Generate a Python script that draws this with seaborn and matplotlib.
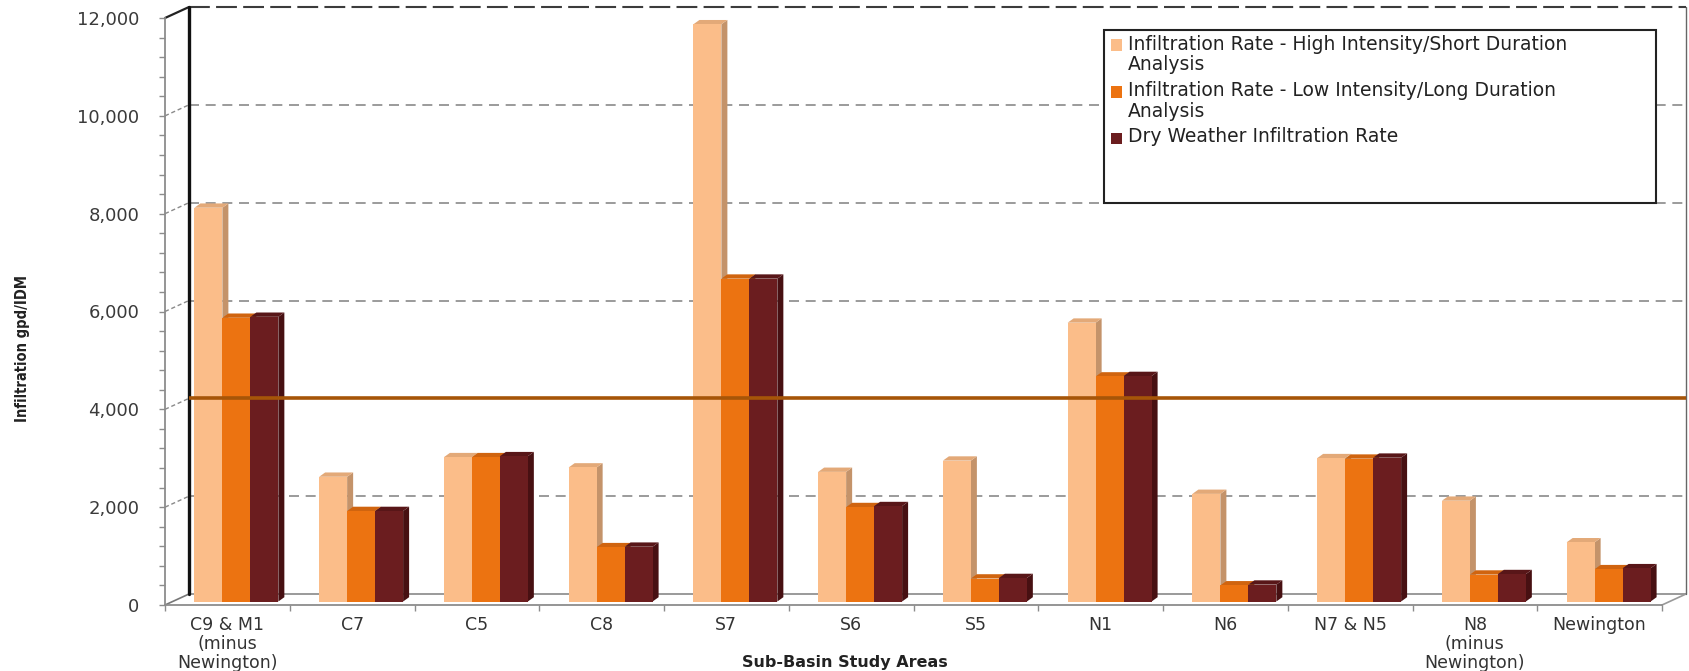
import numpy as np
import pandas as pd
import seaborn as sns
import matplotlib
matplotlib.use("Agg")
import matplotlib.pyplot as plt
from matplotlib.patches import Polygon, Rectangle
from matplotlib.ticker import MultipleLocator, FixedLocator

# ---- data -------------------------------------------------------------
areas = ["C9 & M1\n(minus\nNewington)", "C7", "C5", "C8", "S7", "S6", "S5",
         "N1", "N6", "N7 & N5", "N8\n(minus\nNewington)", "Newington"]
high_short = [8050, 2550, 2950, 2740, 11800, 2650, 2880, 5700, 2200, 2930, 2060, 1210]
low_long = [5800, 1850, 2950, 1110, 6600, 1930, 470, 4600, 330, 2920, 550, 660]
dry_weather = [5820, 1850, 2970, 1120, 6600, 1950, 480, 4610, 345, 2940, 560, 680]
series_names = ["Infiltration Rate - High Intensity/Short Duration\nAnalysis",
                "Infiltration Rate - Low Intensity/Long Duration\nAnalysis",
                "Dry Weather Infiltration Rate"]
threshold = 4000
y_ticks = [0, 2000, 4000, 6000, 8000, 10000, 12000]
y_tick_labels = ["0", "2,000", "4,000", "6,000", "8,000", "10,000", "12,000"]

face_colors = ["#FBBD89", "#EC7311", "#6B1D1F"]
side_colors = ["#C4936A", "#A9530D", "#471012"]
top_colors = ["#E3A978", "#D0640F", "#581618"]

df = pd.DataFrame({
    "area": areas * 3,
    "rate": high_short + low_long + dry_weather,
    "series": np.repeat(series_names, len(areas)),
})

# ---- figure -----------------------------------------------------------
sns.set_style("white")
plt.rcParams["font.family"] = ["DejaVu Sans"]

W, H = 1690, 671
fig = plt.figure(figsize=(W / 100, H / 100), dpi=100)
ax_l, ax_r, ax_b, ax_t = 165, 1662, 605, 18          # front plane, pixels
ax = fig.add_axes([ax_l / W, (H - ax_b) / H, (ax_r - ax_l) / W, (ax_b - ax_t) / H])

sns.barplot(data=df, x="area", y="rate", hue="series", order=areas,
            hue_order=series_names, palette=face_colors, saturation=1,
            width=0.673, gap=0, errorbar=None, legend=False, linewidth=0, ax=ax)

ax.set_xlim(-0.5, 11.5)
ax.set_ylim(0, 12000)
ax.set_xlabel("")
ax.set_ylabel("")

# pixel -> data conversion for the oblique depth offsets
sx = (ax_r - ax_l) / 12.0
sy = (ax_b - ax_t) / 12000.0
def px(dx, dy):
    return dx / sx, dy / sy

bx, by = px(9, 3.5)      # bar front faces sit a little behind the front plane
ddx, ddy = px(6, 4.3)    # bar depth
wx, wy = px(24, 11)      # back wall

# ---- 3-D look for each bar ---------------------------------------------
for k, cont in enumerate(ax.containers):
    for p in cont.patches:
        x0 = p.get_x() + bx
        w = p.get_width()
        h = p.get_height()
        p.set_x(x0)
        p.set_y(by)
        p.set_zorder(3)
        p.set_clip_on(False)
        x1 = x0 + w
        side = Polygon([(x1, by), (x1 + ddx, by + ddy), (x1 + ddx, by + h + ddy), (x1, by + h)],
                       closed=True, fc=side_colors[k], ec="none", zorder=2.5, clip_on=False)
        top = Polygon([(x0, by + h), (x1, by + h), (x1 + ddx, by + h + ddy), (x0 + ddx, by + h + ddy)],
                      closed=True, fc=top_colors[k], ec="none", zorder=2.5, clip_on=False)
        ax.add_patch(side)
        ax.add_patch(top)

# ---- back wall, floor and connectors ------------------------------------
grid_kw = dict(color="#8a8a8a", lw=1.2, ls=(0, (6, 4)), zorder=1, clip_on=False)
for v in y_ticks[1:-1]:
    ax.plot([-0.5 + wx, 11.5 + wx], [v + wy, v + wy], **grid_kw)
    ax.plot([-0.5, -0.5 + wx], [v, v + wy], color="#8a8a8a", lw=1.0, ls=(0, (3, 2)),
            zorder=1, clip_on=False)
ax.plot([-0.5 + wx, 11.5 + wx], [12000 + wy, 12000 + wy], color="#3c3c3c", lw=1.5,
        ls=(0, (10, 3)), zorder=1, clip_on=False)
ax.plot([-0.5, -0.5 + wx], [12000, 12000 + wy], color="#222222", lw=1.6, zorder=1, clip_on=False)
ax.plot([-0.5 + wx, 11.5 + wx], [wy, wy], color="#9a9a9a", lw=1.4, zorder=1, clip_on=False)
ax.plot([-0.5, -0.5 + wx], [0, wy], color="#777777", lw=1.2, zorder=1, clip_on=False)
ax.plot([11.5, 11.5 + wx], [0, wy], color="#999999", lw=1.2, zorder=1, clip_on=False)
ax.plot([-0.5 + wx, -0.5 + wx], [wy, 12000 + wy], color="#111111", lw=2.4, zorder=1.5, clip_on=False)
ax.plot([11.5 + wx, 11.5 + wx], [wy, 12000 + wy], color="#666666", lw=1.0, zorder=1, clip_on=False)

# threshold line on the back wall
ax.plot([-0.5 + wx, 11.5 + wx], [threshold + wy, threshold + wy], color="#A65508", lw=2.6,
        zorder=5, solid_capstyle="butt", clip_on=False)

# ---- axes styling -------------------------------------------------------
for s in ["top", "right"]:
    ax.spines[s].set_visible(False)
for s in ["left", "bottom"]:
    ax.spines[s].set_color("#8c8c8c")
    ax.spines[s].set_linewidth(1.3)

ax.yaxis.set_major_locator(FixedLocator(y_ticks))
ax.set_yticklabels(y_tick_labels)
ax.yaxis.set_minor_locator(MultipleLocator(400))
ax.tick_params(axis="y", which="both", direction="out", left=True, length=4.5,
               width=1.0, color="#8c8c8c")
ax.tick_params(axis="y", which="major", pad=14, labelsize=13, labelcolor="#3a3a3a")

ax.set_xticks(range(len(areas)))
ax.set_xticklabels(areas, linespacing=1.05)
ax.xaxis.set_minor_locator(FixedLocator(np.arange(-0.5, 12.0, 1.0)))
ax.tick_params(axis="x", which="major", length=0, pad=8, labelsize=12.5, labelcolor="#333333")
ax.tick_params(axis="x", which="minor", direction="out", bottom=True, length=4.5,
               width=1.0, color="#8c8c8c")
ax.grid(False)

# ---- axis titles ---------------------------------------------------------
fig.text(845 / W, 1 - 662 / H, "Sub-Basin Study Areas", ha="center", va="center",
         fontsize=11.5, fontweight="bold", color="#222222")
fig.text(23 / W, 1 - 349 / H, "Infiltration gpd/IDM", ha="center", va="center",
         rotation=90, fontsize=10.5, color="#222222", fontstretch="condensed",
         fontweight="bold", family=["Liberation Sans Narrow", "DejaVu Sans"])

# ---- legend box ------------------------------------------------------------
def fx(x):
    return x / W
def fy(y):
    return 1 - y / H

leg_left, leg_top, leg_right, leg_bottom = 1104, 30, 1656, 203
fig.patches.append(Rectangle((fx(leg_left), fy(leg_bottom)), fx(leg_right - leg_left),
                             (leg_bottom - leg_top) / H, transform=fig.transFigure,
                             fc="white", ec="#222222", lw=1.5, zorder=10))
line_centers = [45, 92, 138]
for name, col, yc in zip(series_names, face_colors, line_centers):
    fig.patches.append(Rectangle((fx(1111), fy(yc + 5.5)), 11 / W, 11 / H,
                                 transform=fig.transFigure, fc=col, ec="none", zorder=11))
    fig.text(fx(1128), fy(yc - 10.5), name, ha="left", va="top", fontsize=13.5,
             linespacing=1.08, color="#222222", zorder=11)

fig.savefig("out.png", dpi=100)
